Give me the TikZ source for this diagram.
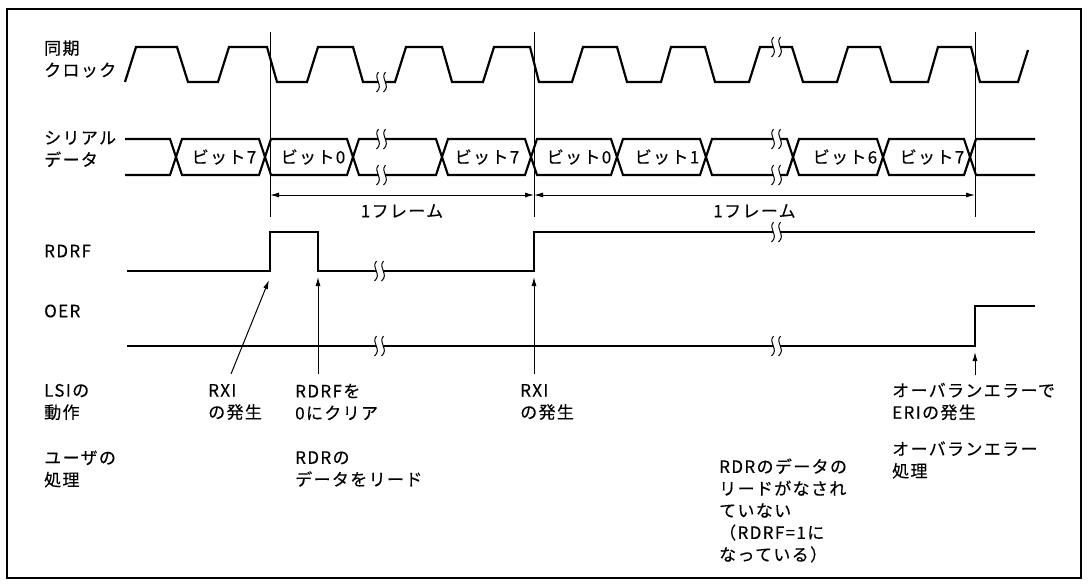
\documentclass[tikz,border=0pt]{standalone}
\usepackage{fontspec}
\setmainfont{Noto Sans CJK JP}[LetterSpace=8, FakeBold=0.3]
\usetikzlibrary{arrows.meta}
\tikzset{
  wavestyle/.style={line width=2.2pt, line join=miter},
  guide/.style={line width=1pt},
  tip/.style={-{Latex[length=9pt,width=5pt]}},
  lbl/.style={anchor=west, inner sep=0pt, align=left, font=\fontsize{17}{22}\selectfont},
  bitlbl/.style={inner sep=0pt, font=\fontsize{17}{22}\selectfont},
  brk/.pic={
    \fill[white] (-3.5,-3.2) rectangle (3.5,3.2);
    \draw[line width=1pt] (-2.5,-10) .. controls (-8.5,-3) and (3.5,3) .. (-4.5,10);
    \draw[line width=1pt] (4.5,-10) .. controls (-1.5,-3) and (10.5,3) .. (2.5,10);
  }
}
\begin{document}
\begin{tikzpicture}[x=1pt,y=-1pt]
\useasboundingbox (0,0) rectangle (1088,584);
\draw[line width=1.5pt] (7,9) rectangle (1081,578);

% clock
\draw[wavestyle] (125,82) -- (136,47) -- (177,47) -- (188,82) -- (218,82) -- (229,47) -- (267,47) -- (277,82)
  -- (307,82) -- (318,47) -- (353,47) -- (363,82) -- (395,82) -- (406,47) -- (442,47) -- (452,82)
  -- (483,82) -- (494,47) -- (530,47) -- (539,82) -- (572,82) -- (583,47) -- (617,47) -- (627,82)
  -- (661,82) -- (671,47) -- (705,47) -- (715,82) -- (749,82) -- (760,47) -- (792,47) -- (803,82)
  -- (837,82) -- (848,47) -- (880,47) -- (891,82) -- (928,82) -- (938,47) -- (971,47) -- (980,82)
  -- (1018,82) -- (1028,50);
\pic at (381,82) {brk};
\pic at (776,47) {brk};

% serial data
\draw[wavestyle] (125,139) -- (170,139) -- (182,175) -- (259,175) -- (271,139) -- (347,139) -- (359,175)
  -- (436,175) -- (448,139) -- (525,139) -- (537,175) -- (611,175) -- (623,139) -- (700,139) -- (712,175)
  -- (787,175) -- (799,139) -- (877,139) -- (889,175) -- (964,175) -- (976,139) -- (1035,139);
\draw[wavestyle] (125,175) -- (170,175) -- (182,139) -- (259,139) -- (271,175) -- (347,175) -- (359,139)
  -- (436,139) -- (448,175) -- (525,175) -- (537,139) -- (611,139) -- (623,175) -- (700,175) -- (712,139)
  -- (787,139) -- (799,175) -- (877,175) -- (889,139) -- (964,139) -- (976,175) -- (1035,175);
\pic at (381,139) {brk};
\pic at (381,175) {brk};
\pic at (776,139) {brk};
\pic at (776,175) {brk};

\node[bitlbl] (b1) at (224,157) {ビット7};
\node[bitlbl] (b2) at (313,157) {ビット0};
\node[bitlbl] (b3) at (487,157) {ビット7};
\node[bitlbl] (b4) at (579,157) {ビット0};
\node[bitlbl] (b5) at (667,157) {ビット1};
\node[bitlbl] (b6) at (845,157) {ビット6};
\node[bitlbl] (b7) at (932,157) {ビット7};

% RDRF
\draw[wavestyle] (127,271) -- (270,271) -- (270,232) -- (318,232) -- (318,271) -- (534,271) -- (534,232) -- (1035,232);
\pic at (379,271) {brk};
\pic at (776,232) {brk};

% OER
\draw[wavestyle] (127,346) -- (975,346) -- (975,306) -- (1035,306);
\pic at (379,346) {brk};
\pic at (776,346) {brk};

% guides and frame dimensions
\coordinate (g1t) at (270,32); \coordinate (g1b) at (270,217);
\coordinate (g2t) at (534,32); \coordinate (g2b) at (534,217);
\coordinate (g3t) at (975,32); \coordinate (g3b) at (975,217);
\draw[guide] (g1t) -- (g1b);
\draw[guide] (g2t) -- (g2b);
\draw[guide] (g3t) -- (g3b);
\coordinate (f1) at (270,195); \coordinate (f2) at (534,195); \coordinate (f3) at (975,195);
\draw[guide, {Latex[length=9pt,width=5pt]}-{Latex[length=9pt,width=5pt]}] (f1) -- (f2);
\draw[guide, {Latex[length=9pt,width=5pt]}-{Latex[length=9pt,width=5pt]}] (f2) -- (f3);
\node[bitlbl] (fr1) at (402,211) {1フレーム};
\node[bitlbl] (fr2) at (754.5,211) {1フレーム};

% event arrows
\coordinate (a1s) at (231,374); \coordinate (a1e) at (269,280);
\coordinate (a2s) at (318,374); \coordinate (a2e) at (318,277);
\coordinate (a3s) at (534,374); \coordinate (a3e) at (534,277);
\coordinate (a4s) at (975,375); \coordinate (a4e) at (975,352);
\draw[guide, tip] (a1s) -- (a1e);
\draw[guide, tip] (a2s) -- (a2e);
\draw[guide, tip] (a3s) -- (a3e);
\draw[guide, tip] (a4s) -- (a4e);

% labels
\node[lbl] (sync) at (44,59) {同期\\クロック};
\node[lbl] (ser) at (44,149) {シリアル\\データ};
\node[lbl] (rdrf) at (44,251) {RDRF};
\node[lbl] (oer) at (44,311) {OER};
\node[lbl] (lsi) at (44,402) {LSIの\\動作};
\node[lbl] (usr) at (44,469) {ユーザの\\処理};
\node[lbl] (rxi1) at (208,402) {RXI\\の発生};
\node[lbl] (clr) at (295,402) {RDRFを\\0にクリア};
\node[lbl] (rxi2) at (520,402) {RXI\\の発生};
\node[lbl] (rd) at (295,469) {RDRの\\データをリード};
\node[lbl] (nrd) at (719,510.5) {RDRのデータの\\リードがなされ\\ていない\\（RDRF=1に\\なっている）};
\node[lbl] (eri) at (892,401.5) {オーバランエラーで\\ERIの発生};
\node[lbl] (ovp) at (892,460) {オーバランエラー\\処理};
\end{tikzpicture}
\end{document}
